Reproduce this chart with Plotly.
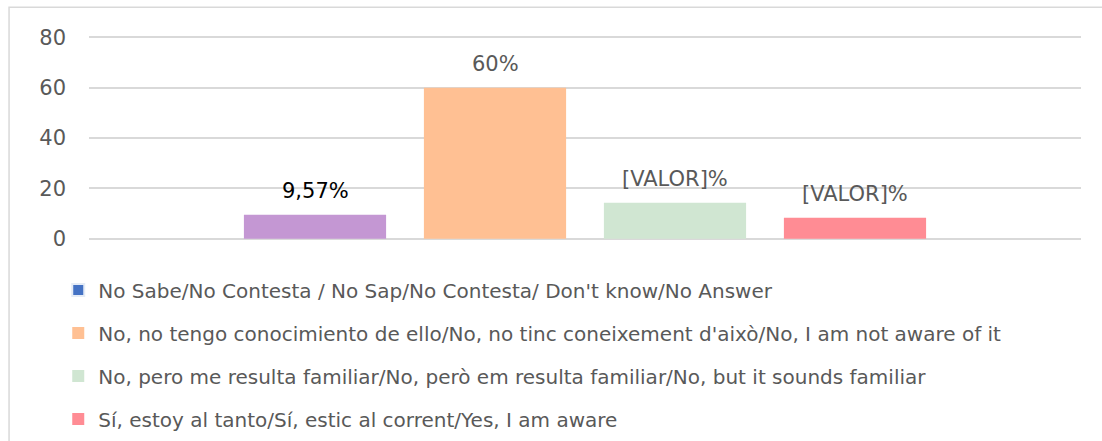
import plotly.graph_objects as go

# Survey answers: one bar per response, shown as percentages
series_names = [
    "No Sabe/No Contesta / No Sap/No Contesta/ Don't know/No Answer",
    "No, no tengo conocimiento de ello/No, no tinc coneixement d'això/No, I am not aware of it",
    "No, pero me resulta familiar/No, però em resulta familiar/No, but it sounds familiar",
    "Sí, estoy al tanto/Sí, estic al corrent/Yes, I am aware",
]
values = [9.57, 60, 14.3, 8.3]
value_labels = ["9,57%", "60%", "[VALOR]%", "[VALOR]%"]
positions = [0, 1, 2, 3]
bar_colors = ["#C497D3", "#FFC093", "#D0E6D2", "#FF8C94"]
legend_colors = ["#4472C4", "#FFC093", "#D0E6D2", "#FF8C94"]
label_colors = ["#000000", "#595959", "#595959", "#595959"]
y_ticks = [0, 20, 40, 60, 80]

FONT = "DejaVu Sans"
GRID = "#D9D9D9"

fig = go.Figure()

for i, name in enumerate(series_names):
    group = f"g{i}"
    if bar_colors[i] != legend_colors[i]:
        # legend swatch keeps the series colour while the bar is recoloured
        fig.add_trace(go.Bar(
            x=[None], y=[None], name=name, legendgroup=group,
            marker=dict(color=legend_colors[i]), hoverinfo="skip",
        ))
        show = False
    else:
        show = True
    fig.add_trace(go.Bar(
        x=[positions[i]], y=[values[i]], name=name, legendgroup=group,
        showlegend=show, width=0.79,
        marker=dict(color=bar_colors[i], line=dict(width=0)),
    ))
    fig.add_annotation(
        x=positions[i], y=values[i], text=value_labels[i],
        showarrow=False, yanchor="bottom", yshift=10,
        font=dict(family=FONT, size=21, color=label_colors[i]),
    )

# outer chart frame
fig.add_shape(
    type="rect", xref="paper", yref="paper",
    x0=-0.0806, x1=1.03, y0=-1.1, y1=1.141,
    line=dict(color=GRID, width=1.5), fillcolor="rgba(0,0,0,0)", layer="below",
)

fig.update_layout(
    width=1102, height=441,
    margin=dict(l=89, r=21, t=36, b=201, autoexpand=False),
    paper_bgcolor="white", plot_bgcolor="white",
    barmode="overlay",
    font=dict(family=FONT, color="#595959"),
    showlegend=True,
    legend=dict(
        orientation="v", x=-0.031, xanchor="left", y=-0.15, yanchor="top",
        font=dict(family=FONT, size=20, color="#595959"),
        tracegroupgap=14, itemsizing="constant", bgcolor="rgba(0,0,0,0)",
    ),
    xaxis=dict(
        range=[-1.2556, 4.2556], showticklabels=False, showgrid=False,
        zeroline=False, showline=False, fixedrange=True,
    ),
    yaxis=dict(
        range=[-0.5, 80.5], tickvals=y_ticks, showgrid=True, gridcolor=GRID,
        gridwidth=1.5, zeroline=False, showline=False, ticks="",
        ticklabelstandoff=22,
        tickfont=dict(family=FONT, size=21, color="#595959"),
    ),
)

fig.write_html("out.html")
